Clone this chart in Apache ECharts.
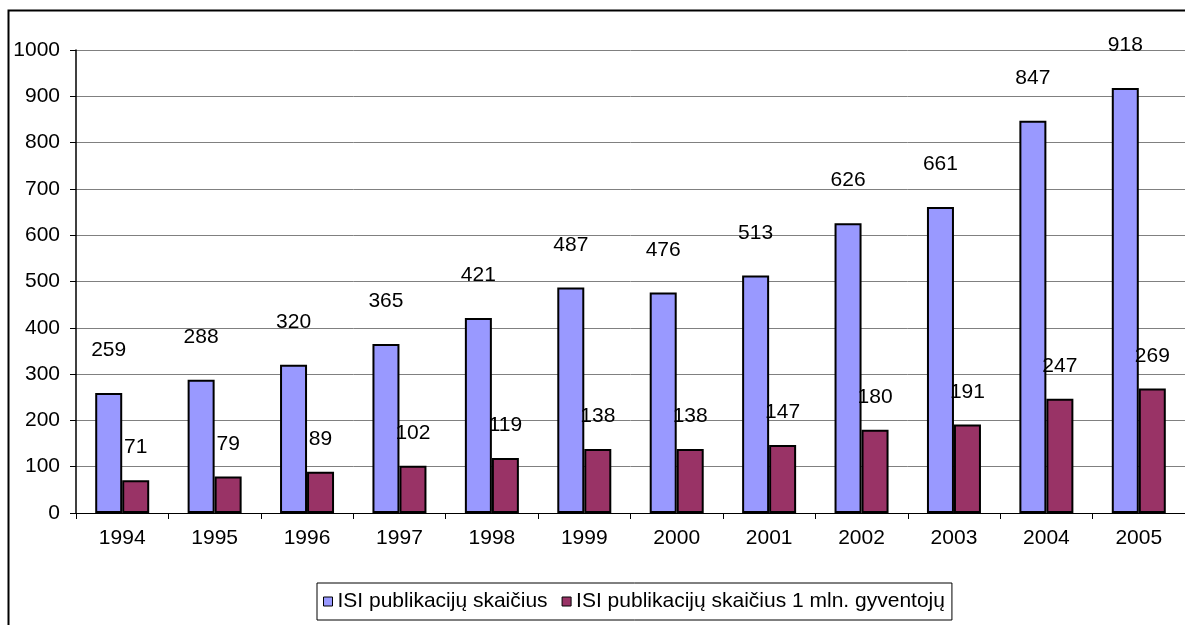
<!DOCTYPE html>
<html>
<head>
<meta charset="utf-8">
<script src="https://cdn.jsdelivr.net/npm/echarts@6/dist/echarts.min.js"></script>
<style>
  html, body { margin: 0; padding: 0; background: #fff; }
  #main { width: 1185px; height: 625px; }
</style>
</head>
<body>
<div id="main"></div>
<script>
// metai
const years = ['1994', '1995', '1996', '1997', '1998', '1999', '2000', '2001', '2002', '2003', '2004', '2005'];
// ISI publikacijų skaičius
const isiCount = [259, 288, 320, 365, 421, 487, 476, 513, 626, 661, 847, 918];
// ISI publikacijų skaičius 1 mln. gyventojų
const isiPerMillion = [71, 79, 89, 102, 119, 138, 138, 147, 180, 191, 247, 269];
const yTicks = [0, 100, 200, 300, 400, 500, 600, 700, 800, 900, 1000];

const font = 'Liberation Sans, Arial, sans-serif';
let myChart = echarts.init(document.getElementById('main'));

let option = {
  animation: false,
  backgroundColor: '#fff',
  textStyle: { fontFamily: font },
  graphic: [{
    type: 'rect',
    shape: { x: 8.5, y: 10.5, width: 1200, height: 640 },
    style: { fill: 'none', stroke: '#000', lineWidth: 2 },
    silent: true
  }],
  grid: { left: 76, top: 50, width: 1128, height: 463 },
  legend: {
    left: 317,
    top: 583,
    padding: [8, 7, 8, 6],
    borderColor: '#000',
    borderWidth: 1,
    icon: 'rect',
    itemWidth: 9,
    itemHeight: 9,
    itemGap: 14,
    textStyle: { fontFamily: font, fontSize: 21, color: '#000' },
    itemStyle: { borderColor: '#000', borderWidth: 1 },
    data: ['ISI publikacijų skaičius', 'ISI publikacijų skaičius 1 mln. gyventojų']
  },
  xAxis: {
    type: 'category',
    data: years,
    boundaryGap: true,
    axisLine: { lineStyle: { color: '#000', width: 1 } },
    axisTick: { show: true, alignWithLabel: false, length: 6, lineStyle: { color: '#000' } },
    axisLabel: { color: '#000', fontSize: 21, fontFamily: font, margin: 15 }
  },
  yAxis: {
    type: 'value',
    min: yTicks[0],
    max: yTicks[yTicks.length - 1],
    interval: 100,
    axisLine: { show: true, lineStyle: { color: '#000', width: 1.5 } },
    axisTick: { show: true, length: 6, lineStyle: { color: '#000' } },
    axisLabel: {
      color: '#000', fontSize: 21, fontFamily: font, margin: 16,
      formatter: function (v) { return String(v); }
    },
    splitLine: { show: true, lineStyle: { color: '#808080', width: 1 } }
  },
  series: [
    {
      name: 'ISI publikacijų skaičius',
      type: 'bar',
      data: isiCount,
      barWidth: 27,
      barGap: '0%',
      itemStyle: { color: '#9999FF', borderColor: '#000', borderWidth: 2 },
      label: {
        show: true,
        position: 'top',
        distance: 32,
        color: '#000',
        fontSize: 21,
        fontFamily: font
      }
    },
    {
      name: 'ISI publikacijų skaičius 1 mln. gyventojų',
      type: 'bar',
      data: isiPerMillion,
      barWidth: 27,
      itemStyle: { color: '#993366', borderColor: '#000', borderWidth: 2 },
      label: {
        show: true,
        position: 'top',
        distance: 22,
        color: '#000',
        fontSize: 21,
        fontFamily: font
      }
    }
  ]
};

myChart.setOption(option);
</script>
</body>
</html>
